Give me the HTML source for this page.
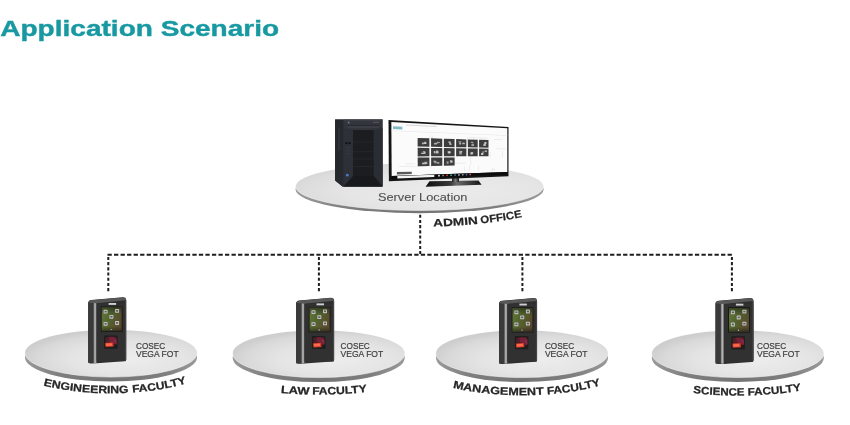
<!DOCTYPE html>
<html><head><meta charset="utf-8"><style>
html,body{margin:0;padding:0;background:#fff;}
svg{display:block;will-change:transform;filter:blur(0.35px);}
text{font-family:"Liberation Sans",sans-serif;}
</style></head><body>
<svg width="850" height="425" viewBox="0 0 850 425">
<defs>
<radialGradient id="top" cx="0.6" cy="0.62" r="0.62">
<stop offset="0" stop-color="#ededed"/><stop offset="0.55" stop-color="#e4e4e4"/><stop offset="0.85" stop-color="#d9d9d9"/><stop offset="1" stop-color="#cecece"/>
</radialGradient>
<radialGradient id="topS" cx="0.6" cy="0.6" r="0.65">
<stop offset="0" stop-color="#ececec"/><stop offset="0.6" stop-color="#e5e5e5"/><stop offset="0.88" stop-color="#dddddd"/><stop offset="1" stop-color="#d6d6d6"/>
</radialGradient>
<linearGradient id="rim" x1="0" y1="0" x2="1" y2="0">
<stop offset="0" stop-color="#9a9a9a"/><stop offset="0.2" stop-color="#7e7e7e"/><stop offset="0.5" stop-color="#747474"/><stop offset="0.8" stop-color="#7e7e7e"/><stop offset="1" stop-color="#9a9a9a"/>
</linearGradient>
<linearGradient id="towerFront" x1="0" y1="0" x2="0" y2="1">
<stop offset="0" stop-color="#33363c"/><stop offset="0.5" stop-color="#2d3036"/><stop offset="1" stop-color="#24272c"/>
</linearGradient>
<linearGradient id="base" x1="0" y1="0" x2="1" y2="0">
<stop offset="0" stop-color="#0e0e0e"/><stop offset="0.45" stop-color="#3a3a3a"/><stop offset="0.55" stop-color="#6a6a6a"/><stop offset="1" stop-color="#151515"/>
</linearGradient>
<linearGradient id="neck" x1="0" y1="0" x2="1" y2="0">
<stop offset="0" stop-color="#1c1c1c"/><stop offset="0.5" stop-color="#7a7a7a"/><stop offset="1" stop-color="#1c1c1c"/>
</linearGradient>
<linearGradient id="scr" x1="0" y1="0" x2="1" y2="0.6">
<stop offset="0" stop-color="#6a803f"/><stop offset="0.45" stop-color="#55682f"/><stop offset="1" stop-color="#5a4a2e"/>
</linearGradient>
<linearGradient id="scr2" x1="0" y1="0" x2="0" y2="1">
<stop offset="0" stop-color="#1a1f14" stop-opacity="0.6"/><stop offset="0.3" stop-color="#1a1f14" stop-opacity="0.05"/><stop offset="0.8" stop-color="#1a1f14" stop-opacity="0"/><stop offset="1" stop-color="#111" stop-opacity="0.5"/>
</linearGradient>
<linearGradient id="strip" x1="0" y1="0" x2="1" y2="0">
<stop offset="0" stop-color="#6e6e6e"/><stop offset="0.5" stop-color="#b8b8b8"/><stop offset="1" stop-color="#7a7a7a"/>
</linearGradient>
<filter id="soft" x="-0.2" y="-0.2" width="1.4" height="1.4"><feGaussianBlur stdDeviation="0.45"/></filter>
<g id="dev">
<path d="M0.5,5.5 Q0.5,2.4 3.5,2.2 L35,-0.6 Q38.6,-0.8 38.6,2.8 L38.6,61.5 Q38.6,63 36.5,63.3 L9,65.3 L3,65.5 Q0.5,65.5 0.5,63 Z" fill="#2e2e2e"/>
<rect x="0.5" y="4" width="6" height="61" fill="#3a3a3a"/>
<rect x="5.8" y="4.2" width="3.1" height="60.9" fill="url(#strip)"/>
<path d="M1,4.8 Q1,2.6 3.5,2.4 L35,-0.3 Q38.2,-0.4 38.3,2.4 L9,5.4 Z" fill="#585858"/>
<rect x="8.9" y="5.4" width="29.3" height="57.8" fill="#313131"/>
<rect x="37.4" y="2.6" width="1" height="59.5" fill="#474747"/>
<rect x="13.2" y="8.6" width="21.6" height="25.4" fill="#161616"/>
<rect x="14" y="9.4" width="20" height="23.8" fill="url(#scr)"/>
<rect x="14" y="9.4" width="20" height="23.8" fill="url(#scr2)"/>
<rect x="20.9" y="5.1" width="7.5" height="1.9" fill="#cfcfcf"/>
<g fill="#c4c4c4">
<rect x="15.9" y="11.9" width="4" height="3.8" rx="0.6"/>
<rect x="27.4" y="11.1" width="4" height="3.8" rx="0.6"/>
<rect x="21.7" y="17" width="4" height="3.8" rx="0.6"/>
<rect x="15.9" y="24" width="4" height="3.8" rx="0.6"/>
<rect x="27.4" y="23.2" width="4" height="3.8" rx="0.6"/>
</g>
<g fill="#5e5e5e">
<rect x="16.8" y="12.9" width="2.2" height="1.7"/>
<rect x="28.3" y="12.1" width="2.2" height="1.7"/>
<rect x="22.6" y="18" width="2.2" height="1.7"/>
<rect x="16.8" y="25" width="2.2" height="1.7"/>
<rect x="28.3" y="24.2" width="2.2" height="1.7"/>
</g>
<circle cx="23.5" cy="31.6" r="0.6" fill="#ddd"/>
<rect x="16.3" y="37.6" width="13.6" height="13.2" rx="1" fill="#1f1d1e"/>
<g filter="url(#soft)">
<path d="M17.5,40 Q22,37.8 28.8,39 L29.2,46 L18.5,47 Z" fill="#5a1c2a" opacity="0.85"/>
<path d="M21,39.5 Q25,38.5 28.5,40.5 L28,44.5 L22,44 Z" fill="#8a2a45" opacity="0.6"/>
<path d="M26,42 L29,41.5 L29,46 L26.5,46.5 Z" fill="#9a2a50" opacity="0.6"/>
<path d="M17.3,45 L25.5,44.4 L26,48.6 L17.8,49.2 Z" fill="#d83a2a"/>
<path d="M18.2,45.7 L24.2,45.3 L24.5,47.8 L18.6,48.2 Z" fill="#ff6c4c"/>
</g>
<circle cx="24.5" cy="57.2" r="2.3" fill="none" stroke="#363636" stroke-width="0.5"/>
</g>
</defs>

<!-- title -->
<text x="0.2" y="35.8" font-size="22.6" font-weight="bold" fill="#1899a2" stroke="#1899a2" stroke-width="0.4" textLength="279" lengthAdjust="spacingAndGlyphs">Application Scenario</text>

<!-- dashed connectors -->
<g stroke="#1e1e1e" stroke-width="2" fill="none">
<path d="M107.5,254.85 H732.8" stroke-dasharray="4.3 2.227"/>
<path d="M420.2,214.7 V254" stroke-dasharray="3.1 2.1"/>
<path d="M108.3,256.9 V291.5" stroke-dasharray="3.1 2.1"/>
<path d="M318.9,256.9 V291.5" stroke-dasharray="3.1 2.1"/>
<path d="M522.4,256.9 V291.5" stroke-dasharray="3.1 2.1"/>
<path d="M731.9,256.9 V291.5" stroke-dasharray="3.1 2.1"/>
</g>

<!-- server platform -->
<path d="M295.6,189.2 A124,23.3 0 0 1 543.6,189.2 A124,24.0 0 0 1 295.6,189.2 Z" fill="url(#rim)"/>
<path d="M295.6,186.5 A124,23.3 0 0 1 543.6,186.5 A124,24.0 0 0 1 295.6,186.5 Z" fill="url(#topS)"/>
<path d="M543.6,186.5 A124,24.0 0 0 1 295.6,186.5" fill="none" stroke="#f2f2f2" stroke-width="0.7" opacity="0.8"/>

<!-- tower -->
<g>
<polygon points="335.1,119.5 382.5,119.5 382.5,186.6 342.5,186.6 335.1,180.5" fill="#24272c"/>
<rect x="343.3" y="119.5" width="39.2" height="67.1" fill="url(#towerFront)"/>
<polygon points="335.1,119.5 343.3,119.5 343.3,186.6 342.5,186.6 335.1,180.5" fill="#25282d"/>
<rect x="338.6" y="128" width="0.8" height="23" fill="#3e4147"/>
<rect x="343.3" y="119.5" width="39.2" height="1" fill="#44474e"/>
<rect x="347.7" y="125.4" width="31.3" height="2.6" fill="#3b3e45"/>
<rect x="347.7" y="125.4" width="31.3" height="0.6" fill="#1e2024"/>
<rect x="347.8" y="121.8" width="1.6" height="1.6" fill="#7d8087"/>
<rect x="373" y="121.8" width="6" height="0.9" fill="#5a5d63"/>
<rect x="352.9" y="130" width="20.9" height="46.1" fill="#1b1d21"/>
<g stroke="#2b2e33" stroke-width="0.6">
<line x1="352.9" y1="142" x2="373.8" y2="142"/><line x1="352.9" y1="151.7" x2="373.8" y2="151.7"/><line x1="352.9" y1="159" x2="373.8" y2="159"/><line x1="352.9" y1="166.5" x2="373.8" y2="166.5"/>
</g>
<polygon points="373.8,130 382.5,128.3 382.5,186.6 373.8,176.1" fill="#2a2d33"/>
<polygon points="352.9,176.1 373.8,176.1 382.5,186.6 343.3,186.6" fill="#17191c"/>
<polygon points="343.3,128.3 352.9,130 352.9,176.1 343.3,186.6" fill="#2d3036"/>
<rect x="345.4" y="142.3" width="2" height="1.8" fill="#0d0e10"/>
<rect x="348.6" y="142.3" width="2" height="1.8" fill="#0d0e10"/>
<g fill="#3d4046"><rect x="346" y="147" width="3.5" height="0.6"/><rect x="346" y="150" width="3.5" height="0.6"/><rect x="346" y="153" width="3.5" height="0.6"/></g>
<circle cx="347.3" cy="175.2" r="1.4" fill="#4a78c8"/>
</g>

<!-- monitor -->
<polygon points="429.5,181.3 478.5,180.4 481.6,184.8 425.6,186.7" fill="url(#base)"/>
<rect x="452" y="175" width="7" height="7" fill="url(#neck)"/>
<polygon points="388.50,119.90 508.50,126.90 508.50,176.20 388.90,181.20" fill="#141414"/>
<polygon points="391.33,121.90 507.34,128.32 507.34,172.06 391.68,175.91" fill="#fbfbfb"/>
<line x1="424.3" y1="154.0" x2="442.3" y2="154.0" stroke="#dcdcdc" stroke-width="0.5"/>
<line x1="468.7" y1="137.5" x2="487.8" y2="138.2" stroke="#dcdcdc" stroke-width="0.5"/>
<line x1="426.9" y1="142.4" x2="426.9" y2="151.6" stroke="#dcdcdc" stroke-width="0.5"/>
<line x1="490.1" y1="151.9" x2="490.1" y2="157.3" stroke="#dcdcdc" stroke-width="0.5"/>
<line x1="469.7" y1="165.3" x2="469.7" y2="171.5" stroke="#dcdcdc" stroke-width="0.5"/>
<line x1="473.5" y1="137.6" x2="473.5" y2="147.2" stroke="#dcdcdc" stroke-width="0.5"/>
<line x1="432.0" y1="135.0" x2="432.0" y2="144.1" stroke="#dcdcdc" stroke-width="0.5"/>
<line x1="478.4" y1="165.5" x2="478.4" y2="171.2" stroke="#dcdcdc" stroke-width="0.5"/>
<line x1="443.2" y1="163.4" x2="465.8" y2="163.0" stroke="#dcdcdc" stroke-width="0.5"/>
<line x1="494.2" y1="139.5" x2="502.5" y2="139.7" stroke="#dcdcdc" stroke-width="0.5"/>
<line x1="502.4" y1="150.7" x2="502.4" y2="157.3" stroke="#dcdcdc" stroke-width="0.5"/>
<line x1="455.9" y1="148.5" x2="471.7" y2="148.7" stroke="#dcdcdc" stroke-width="0.5"/>
<line x1="464.4" y1="166.7" x2="464.4" y2="171.6" stroke="#dcdcdc" stroke-width="0.5"/>
<line x1="492.1" y1="169.0" x2="492.1" y2="170.8" stroke="#dcdcdc" stroke-width="0.5"/>
<line x1="492.5" y1="168.1" x2="492.5" y2="170.8" stroke="#dcdcdc" stroke-width="0.5"/>
<line x1="477.9" y1="142.8" x2="477.9" y2="152.1" stroke="#dcdcdc" stroke-width="0.5"/>
<line x1="430.0" y1="136.1" x2="430.1" y2="150.3" stroke="#dcdcdc" stroke-width="0.5"/>
<line x1="405.2" y1="163.9" x2="415.2" y2="163.7" stroke="#dcdcdc" stroke-width="0.5"/>
<line x1="431.2" y1="162.3" x2="431.2" y2="167.3" stroke="#dcdcdc" stroke-width="0.5"/>
<line x1="467.5" y1="136.8" x2="467.5" y2="144.1" stroke="#dcdcdc" stroke-width="0.5"/>
<line x1="494.4" y1="168.6" x2="494.4" y2="170.7" stroke="#dcdcdc" stroke-width="0.5"/>
<line x1="433.0" y1="136.7" x2="433.0" y2="141.6" stroke="#dcdcdc" stroke-width="0.5"/>
<line x1="419.2" y1="148.8" x2="419.2" y2="155.0" stroke="#dcdcdc" stroke-width="0.5"/>
<line x1="399.0" y1="166.6" x2="425.7" y2="166.1" stroke="#dcdcdc" stroke-width="0.5"/>
<line x1="495.9" y1="148.7" x2="505.6" y2="148.9" stroke="#dcdcdc" stroke-width="0.5"/>
<line x1="470.7" y1="155.9" x2="470.7" y2="165.7" stroke="#dcdcdc" stroke-width="0.5"/>
<polygon points="392.98,126.26 402.39,126.72 402.41,129.42 393.00,129.01" fill="#7fb9c4"/>
<polygon points="405.92,124.50 436.64,126.11 436.65,126.96 405.93,125.40" fill="#d6d6d6"/>
<polygon points="391.39,130.47 507.34,135.25 507.34,135.75 391.39,131.08" fill="#e6e6e6"/>
<polygon points="417.60,137.90 429.34,138.26 429.38,146.75 417.64,146.56" fill="#3d3d3d"/>
<polygon points="424.00,142.51 426.28,142.56 426.29,143.98 424.00,143.94" fill="#d8d8d8" opacity="0.73"/>
<polygon points="421.93,142.54 423.98,142.59 423.99,144.35 421.94,144.31" fill="#d8d8d8" opacity="0.75"/>
<polygon points="424.29,141.76 426.28,141.81 426.29,143.99 424.30,143.95" fill="#d8d8d8" opacity="0.77"/>
<polygon points="431.03,138.31 442.24,138.65 442.27,146.95 431.06,146.77" fill="#3d3d3d"/>
<polygon points="433.94,143.00 436.84,143.06 436.84,144.45 433.94,144.40" fill="#d8d8d8" opacity="0.72"/>
<polygon points="435.36,142.46 438.29,142.52 438.30,143.67 435.36,143.61" fill="#d8d8d8" opacity="0.56"/>
<polygon points="437.09,141.85 439.96,141.92 439.96,142.93 437.09,142.86" fill="#d8d8d8" opacity="0.71"/>
<polygon points="443.85,138.70 454.57,139.02 454.60,147.14 443.88,146.97" fill="#3d3d3d"/>
<polygon points="450.16,143.65 451.55,143.68 451.55,144.78 450.17,144.75" fill="#d8d8d8" opacity="0.84"/>
<polygon points="449.22,142.83 451.09,142.87 451.10,144.74 449.22,144.71" fill="#d8d8d8" opacity="0.76"/>
<polygon points="448.55,141.35 450.66,141.40 450.67,142.96 448.55,142.91" fill="#d8d8d8" opacity="0.80"/>
<polygon points="456.11,139.07 466.37,139.38 466.39,147.32 456.14,147.16" fill="#3d3d3d"/>
<polygon points="459.19,142.71 461.11,142.75 461.12,144.59 459.20,144.55" fill="#d8d8d8" opacity="0.77"/>
<polygon points="458.47,141.19 461.26,141.27 461.27,142.60 458.48,142.54" fill="#d8d8d8" opacity="0.63"/>
<polygon points="462.31,142.58 464.87,142.64 464.87,144.27 462.31,144.22" fill="#d8d8d8" opacity="0.77"/>
<polygon points="467.84,139.43 477.67,139.72 477.68,147.50 467.86,147.34" fill="#3d3d3d"/>
<polygon points="470.78,141.77 472.67,141.82 472.67,142.98 470.78,142.93" fill="#d8d8d8" opacity="0.57"/>
<polygon points="471.44,144.03 474.03,144.09 474.04,146.03 471.44,145.98" fill="#d8d8d8" opacity="0.63"/>
<polygon points="471.97,142.28 473.45,142.31 473.46,143.40 471.97,143.37" fill="#d8d8d8" opacity="0.63"/>
<polygon points="479.08,139.77 488.50,140.05 488.51,147.66 479.09,147.52" fill="#3d3d3d"/>
<polygon points="483.36,143.82 485.83,143.87 485.83,146.09 483.36,146.04" fill="#d8d8d8" opacity="0.81"/>
<polygon points="484.48,141.93 486.39,141.98 486.40,144.19 484.49,144.15" fill="#d8d8d8" opacity="0.78"/>
<polygon points="484.40,142.15 486.32,142.20 486.32,143.46 484.41,143.41" fill="#d8d8d8" opacity="0.74"/>
<polygon points="417.65,147.73 429.39,147.89 429.42,156.37 417.69,156.39" fill="#3d3d3d"/>
<polygon points="422.75,151.23 425.38,151.25 425.38,152.60 422.76,152.58" fill="#d8d8d8" opacity="0.83"/>
<polygon points="423.94,151.92 425.68,151.93 425.69,153.75 423.95,153.75" fill="#d8d8d8" opacity="0.66"/>
<polygon points="421.24,152.80 424.76,152.82 424.77,153.91 421.25,153.90" fill="#d8d8d8" opacity="0.85"/>
<polygon points="431.07,147.91 442.28,148.06 442.31,156.35 431.10,156.37" fill="#3d3d3d"/>
<polygon points="435.41,151.71 438.61,151.74 438.62,153.44 435.41,153.42" fill="#d8d8d8" opacity="0.73"/>
<polygon points="436.01,150.62 438.38,150.64 438.39,152.59 436.02,152.57" fill="#d8d8d8" opacity="0.83"/>
<polygon points="433.79,150.95 435.33,150.96 435.33,153.19 433.79,153.18" fill="#d8d8d8" opacity="0.79"/>
<polygon points="443.89,148.09 454.60,148.23 454.63,156.34 443.92,156.35" fill="#3d3d3d"/>
<polygon points="448.13,152.08 450.70,152.10 450.70,153.29 448.13,153.28" fill="#d8d8d8" opacity="0.55"/>
<polygon points="447.69,150.98 450.54,151.00 450.55,153.00 447.70,152.98" fill="#d8d8d8" opacity="0.76"/>
<polygon points="448.49,152.10 450.05,152.11 450.06,153.73 448.49,153.73" fill="#d8d8d8" opacity="0.61"/>
<polygon points="456.14,148.25 466.39,148.39 466.41,156.32 456.16,156.33" fill="#3d3d3d"/>
<polygon points="459.30,152.23 461.80,152.25 461.81,154.43 459.31,154.42" fill="#d8d8d8" opacity="0.62"/>
<polygon points="459.18,150.72 460.84,150.73 460.84,152.75 459.19,152.74" fill="#d8d8d8" opacity="0.60"/>
<polygon points="460.42,150.92 462.20,150.93 462.20,152.51 460.43,152.50" fill="#d8d8d8" opacity="0.84"/>
<polygon points="467.86,148.41 477.68,148.54 477.70,156.31 467.88,156.32" fill="#3d3d3d"/>
<polygon points="470.29,152.35 472.63,152.36 472.64,154.63 470.29,154.63" fill="#d8d8d8" opacity="0.64"/>
<polygon points="470.88,152.44 473.23,152.45 473.23,153.82 470.88,153.81" fill="#d8d8d8" opacity="0.79"/>
<polygon points="471.44,152.56 472.83,152.57 472.83,153.82 471.44,153.82" fill="#d8d8d8" opacity="0.87"/>
<polygon points="479.10,148.56 488.51,148.69 488.52,156.29 479.11,156.30" fill="#3d3d3d"/>
<polygon points="484.66,150.58 487.02,150.61 487.02,151.74 484.66,151.72" fill="#d8d8d8" opacity="0.90"/>
<polygon points="481.08,152.89 483.37,152.90 483.38,154.92 481.08,154.91" fill="#d8d8d8" opacity="0.90"/>
<polygon points="481.92,151.44 484.26,151.46 484.26,152.76 481.92,152.75" fill="#d8d8d8" opacity="0.64"/>
<polygon points="417.70,157.55 429.43,157.51 429.46,165.98 417.74,166.20" fill="#3d3d3d"/>
<polygon points="424.37,161.72 427.37,161.69 427.38,164.09 424.38,164.14" fill="#d8d8d8" opacity="0.64"/>
<polygon points="423.11,162.39 426.34,162.35 426.35,164.25 423.12,164.30" fill="#d8d8d8" opacity="0.61"/>
<polygon points="422.05,162.67 423.68,162.65 423.69,164.17 422.06,164.19" fill="#d8d8d8" opacity="0.88"/>
<polygon points="431.11,157.51 442.31,157.47 442.34,165.75 431.15,165.95" fill="#3d3d3d"/>
<polygon points="434.15,161.63 436.79,161.60 436.79,163.32 434.16,163.36" fill="#d8d8d8" opacity="0.63"/>
<polygon points="436.97,161.94 439.34,161.92 439.35,163.67 436.98,163.71" fill="#d8d8d8" opacity="0.63"/>
<polygon points="433.41,160.70 435.96,160.67 435.96,161.78 433.42,161.81" fill="#d8d8d8" opacity="0.83"/>
<polygon points="443.92,157.47 454.63,157.43 454.65,165.53 443.95,165.72" fill="#3d3d3d"/>
<polygon points="450.22,159.89 451.55,159.88 451.55,162.32 450.23,162.33" fill="#d8d8d8" opacity="0.61"/>
<polygon points="446.63,161.39 448.59,161.36 448.60,163.66 446.64,163.69" fill="#d8d8d8" opacity="0.63"/>
<polygon points="450.23,160.40 452.66,160.38 452.66,162.72 450.24,162.75" fill="#d8d8d8" opacity="0.79"/>
<polygon points="391.68,175.91 507.34,172.06 507.34,174.52 391.70,178.95" fill="#0c0c0c"/>
<polygon points="397.37,175.90 434.30,174.66 434.31,177.04 397.39,178.43" fill="#f2f2f2"/>
<polygon points="396.91,172.12 411.75,171.71 411.76,174.07 396.93,174.53" fill="#5a5a5a"/>
<polygon points="438.10,174.93 439.85,174.87 439.86,176.38 438.10,176.45" fill="#ddd"/>
<polygon points="442.21,174.79 443.94,174.73 443.95,176.23 442.22,176.29" fill="#888"/>
<polygon points="446.27,174.65 447.98,174.59 447.98,176.08 446.28,176.14" fill="#c33"/>
<polygon points="450.27,174.51 451.95,174.45 451.96,175.93 450.28,175.99" fill="#3a8"/>
<polygon points="454.22,174.37 455.87,174.32 455.88,175.79 454.22,175.85" fill="#57a"/>
<polygon points="458.10,174.24 459.74,174.18 459.74,175.64 458.11,175.70" fill="#aaa"/>
<polygon points="461.94,174.11 463.55,174.05 463.55,175.50 461.94,175.56" fill="#999"/>
<polygon points="465.72,173.98 467.30,173.93 467.31,175.36 465.72,175.42" fill="#47c"/>
<polygon points="469.44,173.85 471.01,173.80 471.01,175.23 469.44,175.29" fill="#c55"/>

<text x="377.9" y="200.9" font-size="11" fill="#505050" stroke="#505050" stroke-width="0.1" textLength="89.6" lengthAdjust="spacingAndGlyphs">Server Location</text>

<!-- ADMIN OFFICE -->
<path id="pAdmin" d="M261.6,187 A158,39.6 0 0 0 577.6,187" fill="none"/>
<text font-size="10.6" font-weight="bold" fill="#262626" stroke="#262626" stroke-width="0.2"><textPath href="#pAdmin" startOffset="183.10" textLength="44.77" lengthAdjust="spacingAndGlyphs">ADMIN</textPath></text>
<text font-size="10.6" font-weight="bold" fill="#262626" stroke="#262626" stroke-width="0.2"><textPath href="#pAdmin" startOffset="230.50" textLength="41.75" lengthAdjust="spacingAndGlyphs">OFFICE</textPath></text>

<path d="M25,357.4 A86,23.2 0 0 1 197,357.4 A86,24.1 0 0 1 25,357.4 Z" fill="url(#rim)"/>
<path d="M25,353 A86,23.2 0 0 1 197,353 A86,24.1 0 0 1 25,353 Z" fill="url(#top)"/>
<path d="M197,353 A86,24.1 0 0 1 25,353" fill="none" stroke="#f2f2f2" stroke-width="0.7" opacity="0.8"/>
<use href="#dev" x="87.7" y="297.9"/>
<text x="136" y="348.8" font-size="8.6" fill="#3f3f3f" stroke="#3f3f3f" stroke-width="0.2" textLength="29.2" lengthAdjust="spacingAndGlyphs">COSEC</text>
<text x="136" y="356.5" font-size="8.6" fill="#3f3f3f" stroke="#3f3f3f" stroke-width="0.2" textLength="42.6" lengthAdjust="spacingAndGlyphs">VEGA FOT</text>
<path id="pf0" d="M-2,353.8 A113,39.5 0 0 0 224,353.8" fill="none"/>
<text font-size="10.6" font-weight="bold" fill="#262626" stroke="#262626" stroke-width="0.25"><textPath href="#pf0" startOffset="58.40" textLength="86.12" lengthAdjust="spacingAndGlyphs">ENGINEERING</textPath></text>
<text font-size="10.6" font-weight="bold" fill="#262626" stroke="#262626" stroke-width="0.25"><textPath href="#pf0" startOffset="148.14" textLength="54.66" lengthAdjust="spacingAndGlyphs">FACULTY</textPath></text>
<path d="M232.7,357.9 A86,23.2 0 0 1 404.7,357.9 A86,24.1 0 0 1 232.7,357.9 Z" fill="url(#rim)"/>
<path d="M232.7,353.5 A86,23.2 0 0 1 404.7,353.5 A86,24.1 0 0 1 232.7,353.5 Z" fill="url(#top)"/>
<path d="M404.7,353.5 A86,24.1 0 0 1 232.7,353.5" fill="none" stroke="#f2f2f2" stroke-width="0.7" opacity="0.8"/>
<use href="#dev" x="295.6" y="298.3"/>
<text x="340.6" y="348.8" font-size="8.6" fill="#3f3f3f" stroke="#3f3f3f" stroke-width="0.2" textLength="29.2" lengthAdjust="spacingAndGlyphs">COSEC</text>
<text x="340.6" y="356.5" font-size="8.6" fill="#3f3f3f" stroke="#3f3f3f" stroke-width="0.2" textLength="42.6" lengthAdjust="spacingAndGlyphs">VEGA FOT</text>
<path id="pf1" d="M183.7,355.1 A135,39.5 0 0 0 453.7,355.1" fill="none"/>
<text font-size="10.6" font-weight="bold" fill="#262626" stroke="#262626" stroke-width="0.25"><textPath href="#pf1" startOffset="109.41" textLength="28.72" lengthAdjust="spacingAndGlyphs">LAW</textPath></text>
<text font-size="10.6" font-weight="bold" fill="#262626" stroke="#262626" stroke-width="0.25"><textPath href="#pf1" startOffset="140.81" textLength="55.06" lengthAdjust="spacingAndGlyphs">FACULTY</textPath></text>
<path d="M436,357.9 A86,23.2 0 0 1 608,357.9 A86,24.1 0 0 1 436,357.9 Z" fill="url(#rim)"/>
<path d="M436,353.5 A86,23.2 0 0 1 608,353.5 A86,24.1 0 0 1 436,353.5 Z" fill="url(#top)"/>
<path d="M608,353.5 A86,24.1 0 0 1 436,353.5" fill="none" stroke="#f2f2f2" stroke-width="0.7" opacity="0.8"/>
<use href="#dev" x="498.5" y="298.5"/>
<text x="544.9" y="348.8" font-size="8.6" fill="#3f3f3f" stroke="#3f3f3f" stroke-width="0.2" textLength="29.2" lengthAdjust="spacingAndGlyphs">COSEC</text>
<text x="544.9" y="356.5" font-size="8.6" fill="#3f3f3f" stroke="#3f3f3f" stroke-width="0.2" textLength="42.6" lengthAdjust="spacingAndGlyphs">VEGA FOT</text>
<path id="pf2" d="M404,355.8 A118,39.5 0 0 0 640,355.8" fill="none"/>
<text font-size="10.6" font-weight="bold" fill="#262626" stroke="#262626" stroke-width="0.25"><textPath href="#pf2" startOffset="61.58" textLength="91.81" lengthAdjust="spacingAndGlyphs">MANAGEMENT</textPath></text>
<text font-size="10.6" font-weight="bold" fill="#262626" stroke="#262626" stroke-width="0.25"><textPath href="#pf2" startOffset="156.61" textLength="54.10" lengthAdjust="spacingAndGlyphs">FACULTY</textPath></text>
<path d="M651.8,357.9 A86,23.2 0 0 1 823.8,357.9 A86,24.1 0 0 1 651.8,357.9 Z" fill="url(#rim)"/>
<path d="M651.8,353.5 A86,23.2 0 0 1 823.8,353.5 A86,24.1 0 0 1 651.8,353.5 Z" fill="url(#top)"/>
<path d="M823.8,353.5 A86,24.1 0 0 1 651.8,353.5" fill="none" stroke="#f2f2f2" stroke-width="0.7" opacity="0.8"/>
<use href="#dev" x="715" y="298.6"/>
<text x="757" y="348.8" font-size="8.6" fill="#3f3f3f" stroke="#3f3f3f" stroke-width="0.2" textLength="29.2" lengthAdjust="spacingAndGlyphs">COSEC</text>
<text x="757" y="356.5" font-size="8.6" fill="#3f3f3f" stroke="#3f3f3f" stroke-width="0.2" textLength="42.6" lengthAdjust="spacingAndGlyphs">VEGA FOT</text>
<path id="pf3" d="M607.8,356.0 A130,39.5 0 0 0 867.8,356.0" fill="none"/>
<text font-size="10.6" font-weight="bold" fill="#262626" stroke="#262626" stroke-width="0.25"><textPath href="#pf3" startOffset="97.97" textLength="51.50" lengthAdjust="spacingAndGlyphs">SCIENCE</textPath></text>
<text font-size="10.6" font-weight="bold" fill="#262626" stroke="#262626" stroke-width="0.25"><textPath href="#pf3" startOffset="152.79" textLength="53.37" lengthAdjust="spacingAndGlyphs">FACULTY</textPath></text>
</svg>
</body></html>
